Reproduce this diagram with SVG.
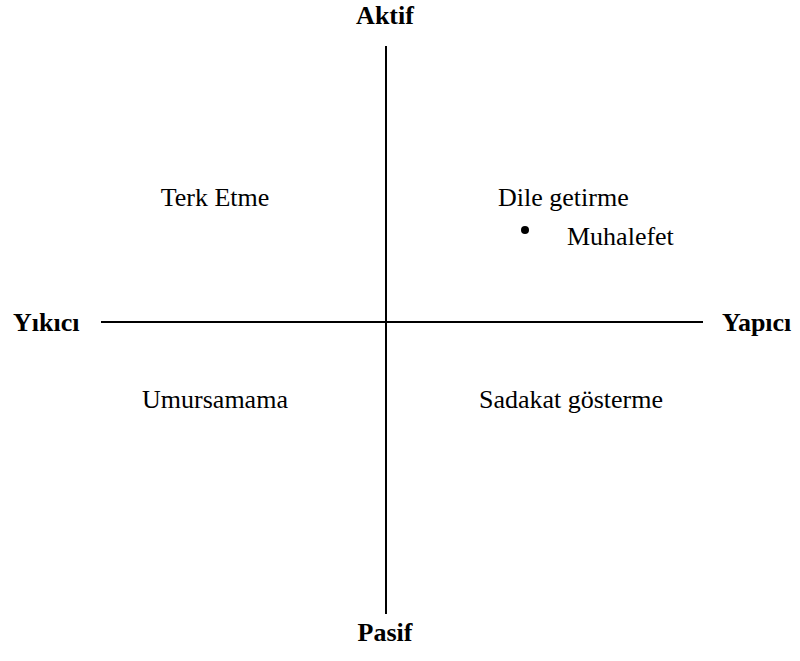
<svg xmlns="http://www.w3.org/2000/svg" width="800" height="661" viewBox="0 0 800 661">
<style>
.t{font-family:"Liberation Serif","Times New Roman",serif;font-size:26px;fill:#000}
.b{font-weight:bold}
.ax{stroke:#000;stroke-width:2;fill:none}
</style>
<rect width="800" height="661" fill="#fff"/>
<g id="connectors">
<line class="ax" x1="386" y1="46" x2="386" y2="614"/>
<line class="ax" x1="101" y1="322" x2="703" y2="322"/>
</g>
<g id="aktif"><text class="t b" x="385" y="24" text-anchor="middle">Aktif</text></g>
<g id="pasif"><text class="t b" x="385" y="641" text-anchor="middle">Pasif</text></g>
<g id="yikici"><text class="t b" x="13" y="331">Yıkıcı</text></g>
<g id="yapici"><text class="t b" x="722" y="331">Yapıcı</text></g>
<g id="terk"><text class="t" x="215" y="206" text-anchor="middle">Terk Etme</text></g>
<g id="dile">
<text class="t" x="498" y="206">Dile getirme</text>
<circle cx="525" cy="230" r="4"/>
<text class="t" x="567" y="245">Muhalefet</text>
</g>
<g id="umursamama"><text class="t" x="215" y="408" text-anchor="middle">Umursamama</text></g>
<g id="sadakat"><text class="t" x="571" y="408" text-anchor="middle">Sadakat gösterme</text></g>
</svg>
